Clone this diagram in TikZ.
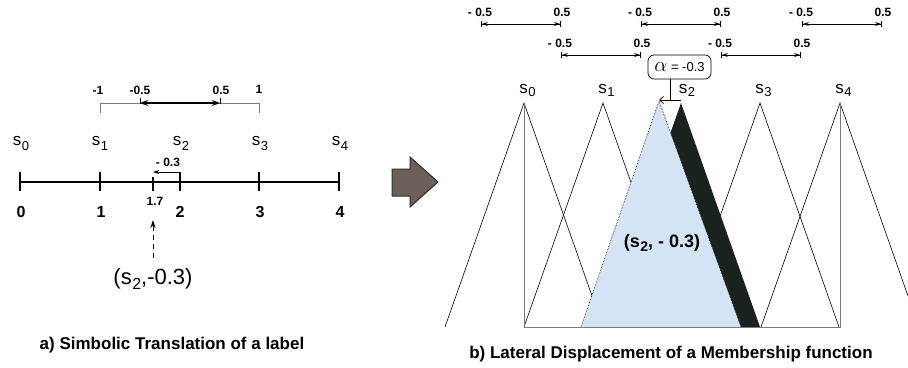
\documentclass[tikz,border=0pt]{standalone}
\usepackage{fontspec}
\setmainfont{Liberation Sans}
\usetikzlibrary{arrows.meta}

\definecolor{membblue}{HTML}{D5E4F5}
\definecolor{bandblack}{HTML}{19221C}
\definecolor{arrowbrown}{HTML}{6C6058}
\definecolor{arrowedge}{HTML}{2B3128}
\definecolor{framegray}{HTML}{7A7A7A}

\newcommand{\fsz}[1]{\fontsize{#1}{#1}\selectfont}
\newcommand{\lsub}[3]{\kern0.5pt\raisebox{-#2}{\fsz{#1}#3}}

\begin{document}
\begin{tikzpicture}[
            x=1pt, y=-1pt,
            every node/.style={inner sep=0pt, align=center},
            axtick/.style={line width=1.2pt},
            memb/.style={line width=0.6pt},
            framebox/.style={draw=framegray, line width=0.9pt},
            rangearrow/.style={line width=0.8pt,
                {Bar[width=6pt]Stealth[length=6pt,width=4pt]}-{Stealth[length=6pt,width=4pt]Bar[width=6pt]}},
            smalllbl/.style={font=\fsz{12}\bfseries},
            axnum/.style={font=\fsz{16}\bfseries},
            captionlbl/.style={font=\fsz{17}\bfseries}
        ]
            \useasboundingbox (0,0) rectangle (908,367);

            % a) symbolic translation
            \draw[axtick] (20,182) -- (339,182);
            \foreach \x/\n in {20/0,100/1,259/3,339/4} {
                \draw[axtick] (\x,172) -- (\x,191);
                \node[axnum] (n\n) at (\x+1,212) {\n};
            }
            \node[axnum] (n2) at (180,212) {2};
            \foreach \i/\x in {0/21,1/100,2/181,3/260,4/340}
                \node[font=\fsz{17}, anchor=base] (ls\i) at (\x,145) {s\lsub{13}{5pt}{\i}};

            \coordinate (b2) at (180,191);
            \coordinate (b2top) at (180,172);
            \coordinate (b17) at (153,172);
            \draw[axtick] (153,177) -- (153,191);
            \draw[axtick] (b2) -- (b2top);
            \draw[line width=0.9pt, -{Stealth[length=6pt,width=4pt]}] (b2top) -- (b17);
            \node[smalllbl] (n17) at (155,201) {1.7};
            \node[smalllbl] (dlt) at (168,162) {- 0.3};

            \coordinate (rl) at (100,103);
            \coordinate (rr) at (259,103);
            \draw[framegray, line width=0.7pt] (100,113) -- (rl) -- (rr) -- (259,113);
            \draw[line width=1.5pt, {Stealth[length=8pt,width=6pt]}-{Stealth[length=8pt,width=6pt]}] (140,103) -- (220,103);
            \draw[line width=0.9pt] (140,98) -- (140,104) (220,98) -- (220,104);
            \node[smalllbl] (m1) at (98,90) {-1};
            \node[smalllbl] (m05) at (140,90) {-0.5};
            \node[smalllbl] (p05) at (221,90) {0.5};
            \node[smalllbl] (p1) at (259,89) {1};

            \node[font=\fsz{22}] (trans) at (153,279) {(s\lsub{16}{5pt}{2},-0.3)};
            \coordinate (dstart) at (153,258);
            \coordinate (dend) at (153,220);
            \draw[line width=1pt, dash pattern=on 5pt off 4pt, -{Stealth[length=8pt,width=5pt]}]
                (dstart) -- (dend);

            \node[captionlbl] (capa) at (172,345) {a) Simbolic Translation of a label};

            % big arrow
            \draw[fill=arrowbrown, draw=arrowedge, line width=1pt]
                (392,169) -- (410,169) -- (410,157) -- (438,182) -- (410,207) -- (410,196) -- (392,196) -- cycle;

            % b) membership functions
            \foreach \i/\x in {0/524,1/603,2/681,3/760,4/840}
                \coordinate (p\i) at (\x,103);
            \coordinate (q2) at (659,101);

            \foreach \x in {524,603,760}
                \draw[memb] (\x-79,327) -- (\x,103) -- (\x+79,327);
            \draw[memb] (761,327) -- (p4) -- (908,296);

            \fill[bandblack] (602,327) -- (p2) -- (760,327) -- cycle;
            \fill[membblue] (581,327) -- (q2) -- (741,327) -- cycle;
            \draw[densely dotted, line width=0.6pt] (581,327) -- (q2) -- (741,327);
            \draw[framebox] (p0) -- (524,327) -- (840,327) -- (p4);

            \foreach \i/\x in {0/527.5,1/606.5,2/687,3/763.5,4/843.5}
                \node[font=\fsz{17}, anchor=base] (s\i) at (\x,93) {s\lsub{13}{3.5pt}{\i}};

            \node[draw, rounded corners=6pt, minimum width=63pt, minimum height=24pt, line width=0.7pt]
                (alpha) at (679.5,67) {\fsz{20}$\alpha$\fsz{13} = -0.3};
            \coordinate (ab) at (670,100);
            \draw[line width=0.7pt] (alpha.south -| ab) -- (ab);
            \draw[line width=0.7pt, -{Straight Barb[length=4pt,width=7pt]}] (p2 |- ab) -- (q2 |- ab);

            \foreach \c/\y in {521/24,681/24,842/24,601/55,761/55} {
                \draw[rangearrow] (\c-40,\y) -- (\c+40,\y);
                \node[smalllbl] (lo\c) at (\c-41,\y-12) {- 0.5};
                \node[smalllbl] (hi\c) at (\c+41,\y-12) {0.5};
            }

            \node[font=\fsz{18}\bfseries] (lbl) at (662,243) {(s\lsub{14}{4pt}{2}, - 0.3)};
            \node[captionlbl] (capb) at (671,354) {b) Lateral Displacement of a Membership function};
        \end{tikzpicture}
\end{document}
